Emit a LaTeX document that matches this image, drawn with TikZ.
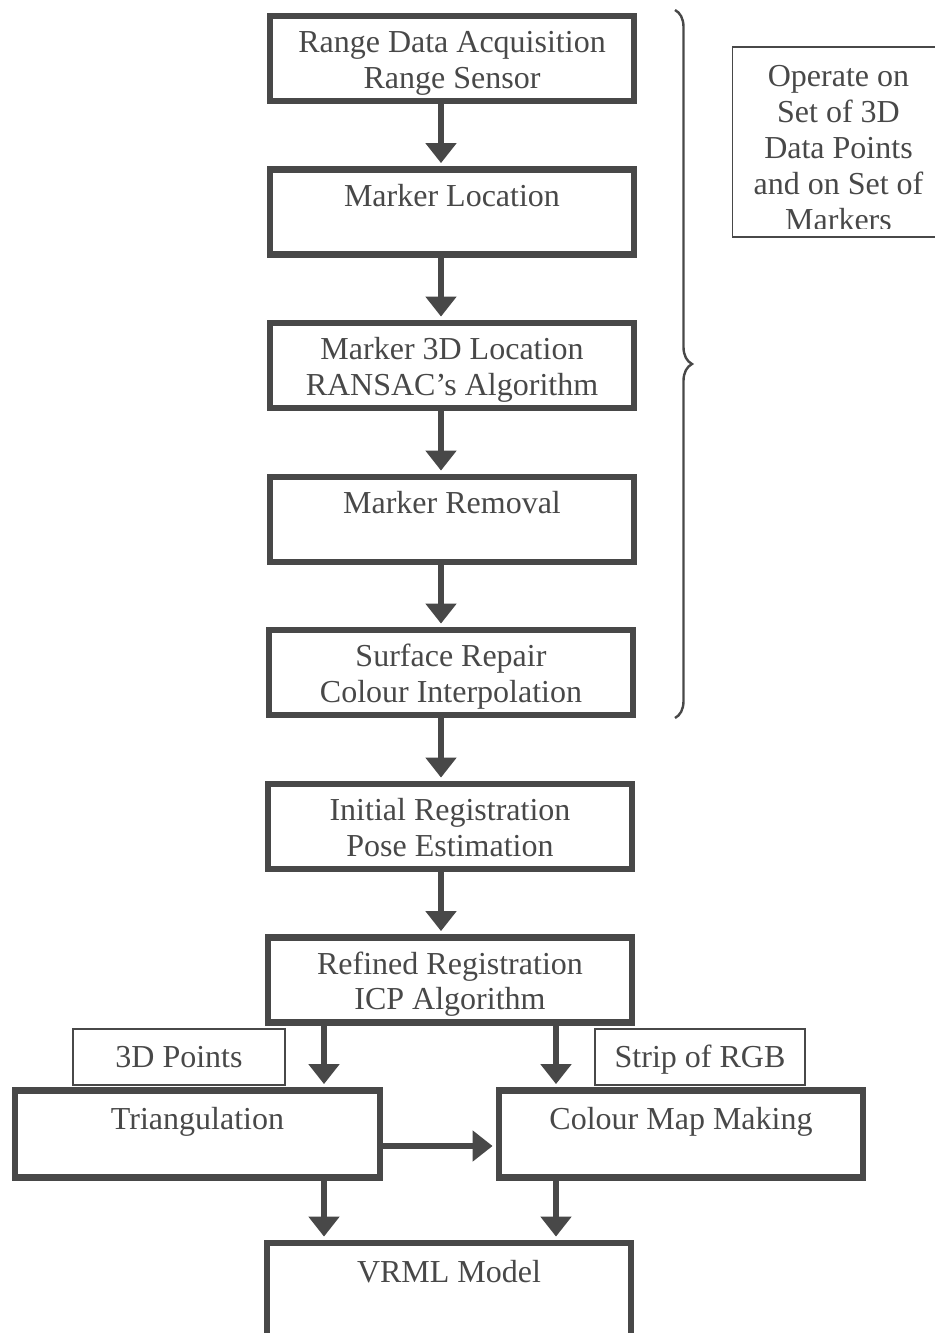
\documentclass[tikz,border=0pt]{standalone}
\usepackage{fontspec}
\setmainfont{Liberation Serif}
\usetikzlibrary{arrows.meta,decorations.pathreplacing}
\definecolor{ink}{RGB}{72,72,72}
\newcommand{\boxfont}{\fontsize{16}{17.8}\selectfont}
\newcommand{\notefont}{\fontsize{16}{18}\selectfont}

\begin{document}
\begin{tikzpicture}[x=0.5pt,y=-0.5pt,
	stepbox/.style={draw=ink, line width=3.2pt, minimum width=182pt, minimum height=42.5pt, inner sep=0pt},
	boxlabel/.style={anchor=north, align=center, inner sep=0pt, font=\boxfont, text=ink},
	toptext/.style={boxlabel, yshift=-7.2pt},
	lowtext/.style={boxlabel, yshift=-8.6pt},
	tagbox/.style={draw=ink, line width=1pt, minimum height=28pt, inner sep=0pt, font=\boxfont, text=ink, text height=10.6pt, text depth=0pt},
	notebox/.style={draw=ink, line width=0.9pt, minimum width=106pt, minimum height=95pt, inner sep=0pt},
	notetext/.style={anchor=north, align=center, inner sep=0pt, font=\notefont, text=ink},
	flow/.style={draw=ink, line width=3.4pt, shorten >=1.6pt, -{Triangle[width=15pt,length=10pt]}},
]
	\useasboundingbox (0,0) rectangle (935,1333);

	% main chain
	\node[stepbox, label={[toptext]north:{\strut Range Data Acquisition\\Range Sensor}}] (acq) at (452,58.5) {};
	\node[stepbox, label={[toptext]north:{\strut Marker Location}}] (loc) at (452,212) {};
	\node[stepbox, label={[toptext]north:{\strut Marker 3D Location\\RANSAC's Algorithm}}] (loc3d) at (452,365.5) {};
	\node[stepbox, label={[toptext]north:{\strut Marker Removal}}] (rem) at (452,519.5) {};
	\node[stepbox, label={[toptext]north:{\strut Surface Repair\\Colour Interpolation}}] (rep) at (451,672.5) {};
	\node[stepbox, label={[toptext]north:{\strut Initial Registration\\Pose Estimation}}] (init) at (450,826.5) {};
	\node[stepbox, label={[toptext]north:{\strut Refined Registration\\ICP Algorithm}}] (icp) at (450,980) {};

	% tags
	\node[tagbox, minimum width=106pt] (pts) at (179,1057) {3D Points};
	\node[tagbox, minimum width=105pt] (rgb) at (700,1057) {Strip of RGB};

	% bottom row
	\node[stepbox, minimum width=182.5pt, minimum height=43.5pt, label={[lowtext]north:{\strut Triangulation}}] (tri) at (197.5,1134) {};
	\node[stepbox, minimum height=43.5pt, label={[lowtext]north:{\strut Colour Map Making}}] (cmap) at (681,1134) {};
	\node[stepbox, minimum height=47pt, label={[lowtext]north:{\strut VRML Model}}] (vrml) at (449,1290) {};

	% side note
	\node[notebox] (note) at (838.5,142) {};
	\begin{scope}
		\clip (note.north west) rectangle ([yshift=4.5pt]note.south east);
		\node[notetext, yshift=-7.5pt] (notelbl) at (note.north) {\strut Operate on\\Set of 3D\\Data Points\\and on Set of\\Markers};
	\end{scope}

	\coordinate (spine) at (441,0);
	\coordinate (lx) at (324,0);
	\coordinate (rx) at (556,0);
	\coordinate (hy) at (0,1146);
	\coordinate (braceTop) at (675,10);
	\coordinate (braceBot) at (675,718);

	\foreach \a/\b in {acq/loc,loc/loc3d,loc3d/rem,rem/rep,rep/init,init/icp}
		\draw[flow] (\a.south -| spine) -- (\b.north -| spine);
	\draw[flow] (icp.south -| lx) -- (tri.north -| lx);
	\draw[flow] (icp.south -| rx) -- (cmap.north -| rx);
	\draw[flow] (tri.south -| lx) -- (vrml.north -| lx);
	\draw[flow] (cmap.south -| rx) -- (vrml.north -| rx);
	\draw[flow] (tri.east |- hy) -- (cmap.west |- hy);

	\draw[ink, line width=1.2pt, decorate, decoration={brace, amplitude=8.5pt}] (braceTop) -- (braceBot);
\end{tikzpicture}
\end{document}
